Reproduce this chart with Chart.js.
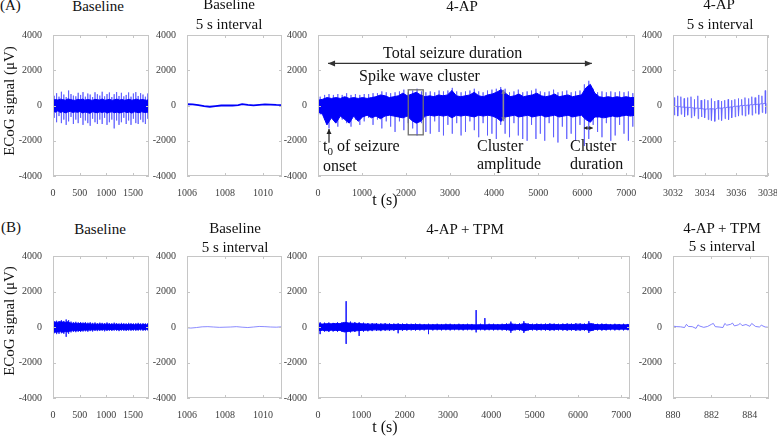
<!DOCTYPE html>
<html><head><meta charset="utf-8">
<script src="https://cdn.jsdelivr.net/npm/chart.js@4.4.1/dist/chart.umd.min.js"></script>
<style>
html,body{margin:0;padding:0;background:#fff;overflow:hidden;}
#fig{position:relative;width:777px;height:438px;overflow:hidden;font-family:"Liberation Serif",serif;color:#111;}
#fig canvas{position:absolute;}
.t{position:absolute;white-space:nowrap;line-height:1;}
</style></head><body><div id="fig"></div>
<script>
// ---------------- DATA ----------------
const yTicks = [-4000, -2000, 0, 2000, 4000];
const longTicksShort = [0, 500, 1000, 1500];
const baseIntTicks = [1006, 1008, 1010];
const longTicks = [0, 1000, 2000, 3000, 4000, 5000, 6000, 7000];
const apIntTicks = [3032, 3034, 3036, 3038];
const tpmIntTicks = [880, 882, 884];

// (A) Baseline 0-1800 s : core envelope (hi/lo) and spike extremes (up/dn)
const a1Hi = [300,340,310,360,330,300,370,340,310,290,350,320,360,300,340,320,290,350,330,310,370,300,320,350,290,330,360,310,340,300,320,350,300,330,360,310,340,320,300,340];
const a1Lo = [-320,-380,-300,-400,-350,-420,-370,-330,-400,-360,-390,-340,-420,-370,-400,-440,-350,-390,-410,-360,-400,-350,-430,-380,-360,-410,-370,-420,-390,-350,-400,-370,-430,-360,-390,-410,-360,-390,-400,-350];
const a1Up = [550,700,500,780,620,480,850,650,560,520,720,600,760,500,680,620,480,750,640,560,780,520,650,740,480,640,760,540,720,520,600,740,500,680,760,540,700,620,500,680];
const a1Dn = [-700,-950,-600,-1000,-800,-1100,-900,-650,-1050,-800,-1000,-700,-1100,-850,-1000,-1150,-750,-950,-1050,-800,-1050,-700,-1100,-950,-800,-1300,-850,-1100,-950,-700,-1050,-850,-1100,-750,-1000,-1050,-800,-950,-1050,-750];

// (A) Baseline 5 s interval
const a2T = [1006,1006.3,1006.6,1006.9,1007.2,1007.5,1007.8,1008.1,1008.4,1008.7,1008.9,1009.2,1009.5,1009.8,1010.1,1010.4,1010.7,1011];
const a2V = [70,60,20,-40,-70,-30,0,10,0,20,80,30,10,40,60,50,30,20];

// (A) 4-AP 0-7200 s
const a3Hi = [300,350,450,400,450,400,500,400,450,400,450,400,450,500,600,550,450,500,550,700,550,650,750,600,500,550,500,600,550,600,850,550,500,550,600,750,550,500,600,650,750,900,700,500,550,650,500,550,600,700,550,500,550,650,500,550,600,500,550,600,1000,1200,700,500,450,500,450,500,450,500,450,450];
const a3Lo = [-350,-500,-1100,-700,-1000,-600,-800,-1000,-600,-900,-650,-550,-700,-600,-750,-600,-550,-600,-650,-700,-600,-850,-1000,-900,-600,-550,-600,-550,-600,-550,-700,-550,-600,-550,-600,-650,-550,-600,-550,-600,-700,-900,-650,-600,-550,-650,-600,-550,-650,-600,-550,-650,-600,-550,-650,-600,-550,-650,-600,-550,-800,-950,-650,-650,-700,-650,-600,-650,-600,-550,-600,-550];
const a3Up = [500,600,650,600,650,600,700,600,650,600,650,650,700,700,800,750,700,750,800,900,750,850,950,800,750,800,750,850,800,850,1000,800,750,800,850,950,800,750,850,900,950,1050,950,750,800,900,750,800,850,950,800,750,800,900,750,800,850,750,800,850,1200,1400,950,750,800,750,800,750,800,750,800,700];
const a3Dn = [-500,-800,-1300,-700,-1200,-800,-1000,-1200,-800,-1100,-900,-700,-1100,-800,-1300,-900,-1200,-1500,-900,-1400,-1000,-1300,-1700,-1000,-1500,-1600,-900,-1500,-1700,-1100,-1600,-1000,-1700,-1500,-900,-1400,-1800,-1000,-1700,-1600,-1900,-1100,-1600,-1800,-1000,-1700,-1900,-2000,-1100,-1900,-1600,-2000,-1000,-1800,-2100,-1200,-1900,-1600,-2000,-1100,-2300,-1900,-1100,-1500,-1800,-1000,-2000,-1700,-1100,-1600,-2000,-1200];

// (A) 4-AP 5 s interval : spike times, peaks, troughs, baseline level
const a4T = [3032.05,3032.27,3032.48,3032.69,3032.90,3033.12,3033.33,3033.55,3033.76,3033.97,3034.19,3034.40,3034.61,3034.83,3035.04,3035.25,3035.47,3035.68,3035.89,3036.11,3036.32,3036.53,3036.75,3036.96,3037.17,3037.39,3037.60,3037.81];
const a4Up = [450,550,500,400,450,500,350,550,300,350,300,400,250,300,250,300,350,300,350,400,350,450,400,500,450,600,550,850];
const a4Dn = [-550,-600,-500,-650,-550,-700,-600,-750,-650,-700,-800,-850,-900,-800,-850,-750,-800,-700,-650,-600,-550,-600,-500,-550,-450,-500,-400,-450];
const a4Mid = [-50,-50,-80,-100,-100,-120,-150,-150,-180,-200,-200,-180,-200,-150,-150,-120,-100,-80,-50,-30,0,0,30,50,50,80,100,120];

// (B) Baseline 0-1800 s
const b1Hi = [250,280,260,300,280,250,300,220,200,210,190,200,180,190,170,180,160,170,150,170,160,150,170,150,140,160,150,130,150,140,130,150,140,130,140,150,130,140,130,140];
const b1Lo = [-250,-300,-280,-260,-300,-250,-280,-220,-200,-210,-190,-200,-180,-170,-180,-160,-170,-150,-160,-150,-140,-160,-150,-140,-150,-130,-140,-150,-130,-140,-150,-130,-140,-130,-140,-130,-120,-140,-130,-120];
const b1Up = [320,350,330,380,340,420,380,300,280,290,260,280,250,270,240,260,230,250,220,240,230,220,250,220,210,240,220,200,230,210,200,230,210,200,210,230,200,210,200,210];
const b1Dn = [-350,-400,-380,-350,-380,-550,-380,-300,-280,-290,-270,-280,-250,-240,-260,-230,-250,-220,-230,-220,-210,-240,-220,-210,-220,-200,-210,-230,-200,-210,-220,-200,-210,-200,-210,-200,-190,-210,-200,-190];

// (B) Baseline 5 s interval
const b2T = [1006,1006.2,1006.5,1006.8,1007.1,1007.4,1007.7,1008,1008.3,1008.6,1008.9,1009.2,1009.5,1009.8,1010.1,1010.4,1010.7,1011];
const b2V = [-40,-60,-30,10,20,0,-20,-10,0,20,-10,-30,0,30,20,0,-10,10];

// (B) 4-AP + TPM 0-7200 s
const b3Hi = [180,170,190,180,200,190,260,230,210,200,180,170,160,170,150,160,150,140,150,140,140,130,140,130,120,130,120,130,120,130,130,120,130,120,130,120,120,130,120,130,130,120,130,140,180,130,140,200,140,130,140,130,140,150,140,130,140,150,140,160,150,140,200,140,130,140,130,120,130,120,130,120];
const b3Lo = [-200,-190,-210,-180,-200,-190,-280,-250,-220,-210,-190,-180,-170,-160,-170,-150,-160,-150,-140,-150,-140,-130,-140,-130,-130,-120,-130,-120,-130,-120,-130,-120,-120,-130,-120,-120,-130,-120,-130,-120,-130,-120,-130,-140,-200,-130,-140,-220,-140,-130,-140,-130,-140,-150,-140,-130,-140,-150,-140,-160,-150,-140,-220,-140,-130,-140,-130,-120,-130,-120,-130,-120];
const b3Up = [260,240,250,230,260,250,1450,300,270,260,240,220,210,220,200,210,200,190,200,190,190,180,190,180,170,180,170,180,170,180,180,170,180,170,180,170,950,180,500,180,180,170,180,200,300,180,200,320,200,180,190,180,190,200,190,180,190,200,190,210,200,190,320,190,180,190,180,170,180,170,180,170];
const b3Dn = [-400,-260,-280,-250,-270,-260,-950,-300,-280,-500,-260,-240,-230,-220,-230,-210,-220,-210,-350,-210,-200,-190,-200,-190,-190,-400,-190,-180,-190,-180,-190,-180,-180,-190,-180,-180,-300,-180,-190,-180,-190,-180,-190,-200,-320,-190,-200,-330,-200,-190,-200,-190,-200,-210,-200,-190,-200,-210,-200,-220,-210,-200,-330,-200,-190,-200,-190,-180,-190,-180,-190,-180];

// (B) 4-AP + TPM 5 s interval
const b4T = [880,880.2,880.4,880.6,880.7,880.8,881,881.2,881.3,881.4,881.6,881.8,882,882.1,882.2,882.4,882.6,882.7,882.8,883,883.1,883.2,883.4,883.5,883.6,883.8,884,884.1,884.3,884.5,884.6,884.8,885];
const b4V = [50,20,10,-30,150,30,20,-80,120,50,-20,30,150,200,20,0,-30,200,100,150,220,60,120,200,80,140,40,200,30,0,100,0,-20];

// annotation positions (data units) in the 4-AP panel
const totalArrow = [228, 6220, 2390];        // t start, t end, level
const clusterBox = [2050, 2390, 890, -1665]; // t1, t2, top, bottom
const onsetArrow = [250, -2110, -1330];       // t, tail, tip
const ampArrow = [4210, 890, -890];           // t, top, bottom
const durArrow = [6040, 6240, -1280];         // t1, t2, level

// ---------------- HELPERS ----------------
const FONT = "'Liberation Serif', serif";
const fig = document.getElementById('fig');
const DARK = 'rgb(0,0,250)';
const LIGHT = 'rgba(70,70,255,0.5)';

function bandSets(xMin, xMax, hi, lo, up, dn, spikeColor, coreColor) {
  const n = hi.length, span = xMax - xMin;
  const H = hi.map((v, i) => ({x: xMin + i * span / (n - 1), y: v}));
  const L = lo.map((v, i) => ({x: xMin + i * span / (n - 1), y: v}));
  const S = [];
  const m = up.length;
  up.forEach((v, i) => {
    const t = xMin + (i + 0.5) * span / m;
    S.push({x: t, y: v}, {x: t, y: dn[i]}, {x: t, y: null});
  });
  return [
    {data: H, borderColor: coreColor, borderWidth: 1, fill: '+1', backgroundColor: coreColor, order: 1},
    {data: L, borderColor: coreColor, borderWidth: 1, fill: false, order: 1},
    {data: S, borderColor: spikeColor, borderWidth: 1, fill: false, order: 2, spanGaps: false}
  ];
}
function lineSet(ts, vs, color, w) {
  return [{data: ts.map((t, i) => ({x: t, y: vs[i]})), borderColor: color, borderWidth: w, fill: false}];
}
function spikeTrain(ts, up, dn, mid, color) {
  const d = [];
  ts.forEach((t, i) => {
    d.push({x: t, y: mid[i]}, {x: t + 0.015, y: up[i]}, {x: t + 0.04, y: dn[i]}, {x: t + 0.07, y: mid[i]});
  });
  return [{data: d, borderColor: color, borderWidth: 1, fill: false}];
}

const framePlugin = {
  id: 'frame',
  afterDraw(ch) {
    const {ctx, chartArea: a, scales: {x, y}} = ch;
    ctx.save();
    ctx.strokeStyle = '#c6c6c6';
    ctx.lineWidth = 1;
    ctx.strokeRect(a.left + 0.5, a.top + 0.5, a.right - a.left - 1, a.bottom - a.top - 1);
    ctx.beginPath();
    x.ticks.forEach(tk => {
      const px = Math.round(x.getPixelForValue(tk.value)) + 0.5;
      ctx.moveTo(px, a.bottom); ctx.lineTo(px, a.bottom - 3);
      ctx.moveTo(px, a.top); ctx.lineTo(px, a.top + 3);
    });
    y.ticks.forEach(tk => {
      const py = Math.round(y.getPixelForValue(tk.value)) + 0.5;
      ctx.moveTo(a.left, py); ctx.lineTo(a.left + 3, py);
      ctx.moveTo(a.right, py); ctx.lineTo(a.right - 3, py);
    });
    ctx.stroke();
    ctx.restore();
  }
};

function arrowHead(ctx, x1, y1, x2, y2, len, wid) {
  const ang = Math.atan2(y2 - y1, x2 - x1);
  ctx.beginPath();
  ctx.moveTo(x2, y2);
  ctx.lineTo(x2 - len * Math.cos(ang) + wid * Math.sin(ang), y2 - len * Math.sin(ang) - wid * Math.cos(ang));
  ctx.lineTo(x2 - len * Math.cos(ang) - wid * Math.sin(ang), y2 - len * Math.sin(ang) + wid * Math.cos(ang));
  ctx.closePath();
  ctx.fill();
}
function arrow(ctx, x1, y1, x2, y2, both, color, lw, len, wid) {
  ctx.strokeStyle = color; ctx.fillStyle = color; ctx.lineWidth = lw;
  ctx.beginPath(); ctx.moveTo(x1, y1); ctx.lineTo(x2, y2); ctx.stroke();
  arrowHead(ctx, x1, y1, x2, y2, len, wid);
  if (both) arrowHead(ctx, x2, y2, x1, y1, len, wid);
}
const annoPlugin = {
  id: 'anno',
  afterDatasetsDraw(ch) {
    const {ctx, scales: {x, y}} = ch;
    const X = v => x.getPixelForValue(v), Y = v => y.getPixelForValue(v);
    ctx.save();
    arrow(ctx, X(totalArrow[0]), Y(totalArrow[2]), X(totalArrow[1]), Y(totalArrow[2]), true, '#333', 1.4, 7, 3);
    ctx.strokeStyle = '#707070'; ctx.lineWidth = 1.3;
    ctx.strokeRect(X(clusterBox[0]), Y(clusterBox[2]), X(clusterBox[1]) - X(clusterBox[0]), Y(clusterBox[3]) - Y(clusterBox[2]));
    arrow(ctx, X(onsetArrow[0]), Y(onsetArrow[1]), X(onsetArrow[0]), Y(onsetArrow[2]), false, '#222', 1.2, 5, 2.5);
    arrow(ctx, X(ampArrow[0]), Y(ampArrow[1]), X(ampArrow[0]), Y(ampArrow[2]), true, '#8c8c8c', 1.6, 4, 2);
    arrow(ctx, X(durArrow[0]), Y(durArrow[2]), X(durArrow[1]), Y(durArrow[2]), true, '#222', 1, 3.5, 2);
    ctx.restore();
  }
};

function panel(p) {
  const padL = 40, padT = 6, padR = 12, axH = 20;
  const W = padL + p.w + padR, H = padT + p.h + axH;
  const c = document.createElement('canvas');
  c.width = W; c.height = H;
  c.style.width = W + 'px'; c.style.height = H + 'px';
  c.style.left = (p.left - padL) + 'px'; c.style.top = (p.top - padT) + 'px';
  fig.appendChild(c);
  const tickOpts = {font: {family: FONT, size: 10}, color: '#3c3c3c', padding: 3, maxRotation: 0, autoSkip: false, callback: v => String(v)};
  new Chart(c, {
    type: 'line',
    data: {datasets: p.datasets},
    options: {
      responsive: false, animation: false, devicePixelRatio: 1, events: [],
      layout: {padding: {left: 0, top: padT, right: padR, bottom: 0}},
      plugins: {legend: {display: false}, tooltip: {enabled: false}},
      elements: {point: {radius: 0}, line: {tension: 0}},
      scales: {
        x: {type: 'linear', min: p.xMin, max: p.xMax, grid: {display: false}, border: {display: false},
            ticks: tickOpts,
            afterBuildTicks: s => { s.ticks = p.xTicks.map(v => ({value: v})); },
            afterFit: s => { s.height = axH; }},
        y: {type: 'linear', min: -4000, max: 4000, grid: {display: false}, border: {display: false},
            ticks: tickOpts,
            afterBuildTicks: s => { s.ticks = yTicks.map(v => ({value: v})); },
            afterFit: s => { s.width = padL; }}
      }
    },
    plugins: [framePlugin].concat(p.extra || [])
  });
}

function txt(html, x, base, size, align) {
  const d = document.createElement('div');
  d.className = 't';
  d.innerHTML = html;
  d.style.fontSize = size + 'px';
  d.style.top = (base - 0.8375 * size) + 'px';
  d.style.left = x + 'px';
  if (align === 'center') d.style.transform = 'translateX(-50%)';
  fig.appendChild(d);
}
function ylabel(x, yc) {
  const d = document.createElement('div');
  d.className = 't';
  d.textContent = 'ECoG signal (μV)';
  d.style.fontSize = '15px';
  d.style.left = x + 'px'; d.style.top = yc + 'px';
  d.style.transform = 'translate(-50%,-50%) rotate(-90deg)';
  fig.appendChild(d);
}

// ---------------- PANELS ----------------
panel({left: 53, top: 32, w: 96, h: 144, xMin: 0, xMax: 1800, xTicks: longTicksShort,
  datasets: bandSets(0, 1800, a1Hi, a1Lo, a1Up, a1Dn, LIGHT, DARK)});
panel({left: 187, top: 32, w: 95, h: 144, xMin: 1006, xMax: 1011, xTicks: baseIntTicks,
  datasets: lineSet(a2T, a2V, DARK, 1.8)});
panel({left: 318, top: 32, w: 317, h: 144, xMin: 0, xMax: 7200, xTicks: longTicks,
  datasets: bandSets(0, 7200, a3Hi, a3Lo, a3Up, a3Dn, LIGHT, DARK), extra: [annoPlugin]});
panel({left: 673, top: 32, w: 96, h: 144, xMin: 3032, xMax: 3038, xTicks: apIntTicks,
  datasets: spikeTrain(a4T, a4Up, a4Dn, a4Mid, 'rgba(95,95,255,0.8)')});

panel({left: 53, top: 253, w: 96, h: 145, xMin: 0, xMax: 1800, xTicks: longTicksShort,
  datasets: bandSets(0, 1800, b1Hi, b1Lo, b1Up, b1Dn, 'rgba(40,40,255,0.8)', DARK)});
panel({left: 187, top: 253, w: 95, h: 145, xMin: 1006, xMax: 1011, xTicks: baseIntTicks,
  datasets: lineSet(b2T, b2V, 'rgba(110,110,255,0.8)', 1)});
panel({left: 318, top: 253, w: 312, h: 145, xMin: 0, xMax: 7200, xTicks: longTicks,
  datasets: bandSets(0, 7200, b3Hi, b3Lo, b3Up, b3Dn, 'rgba(30,30,255,0.85)', DARK)});
panel({left: 673, top: 253, w: 96, h: 145, xMin: 880, xMax: 885, xTicks: tpmIntTicks,
  datasets: lineSet(b4T, b4V, 'rgba(100,100,255,0.8)', 1)});

// ---------------- TEXT ----------------
txt('(A)', 0, 11, 15);
txt('(B)', 1, 233, 15);
ylabel(9, 101);
ylabel(9, 321);
txt('Baseline', 98, 12, 15, 'center');
txt('Baseline', 229, 10, 15, 'center');
txt('5 s interval', 229, 29.5, 15, 'center');
txt('4-AP', 462, 11.7, 15, 'center');
txt('4-AP', 719, 10, 15, 'center');
txt('5 s interval', 720, 29.5, 15, 'center');
txt('Baseline', 100, 235, 15, 'center');
txt('Baseline', 235, 234, 15, 'center');
txt('5 s interval', 235, 252.5, 15, 'center');
txt('4-AP + TPM', 465, 235, 15, 'center');
txt('4-AP + TPM', 722, 233.5, 15, 'center');
txt('5 s interval', 722, 251.5, 15, 'center');
txt('t (s)', 385, 205, 16, 'center');
txt('t (s)', 385, 432, 16, 'center');
// annotations in 4-AP panel
txt('Total seizure duration', 383, 58, 16);
txt('Spike wave cluster', 359, 81, 16);
txt('t<span style="font-size:11px;position:relative;top:4px">0</span> of seizure', 323, 151, 16);
txt('onset', 323, 171, 16);
txt('Cluster', 477, 151, 16);
txt('amplitude', 477, 169, 16);
txt('Cluster', 570, 151, 16);
txt('duration', 570, 169, 16);
</script>
</body></html>
